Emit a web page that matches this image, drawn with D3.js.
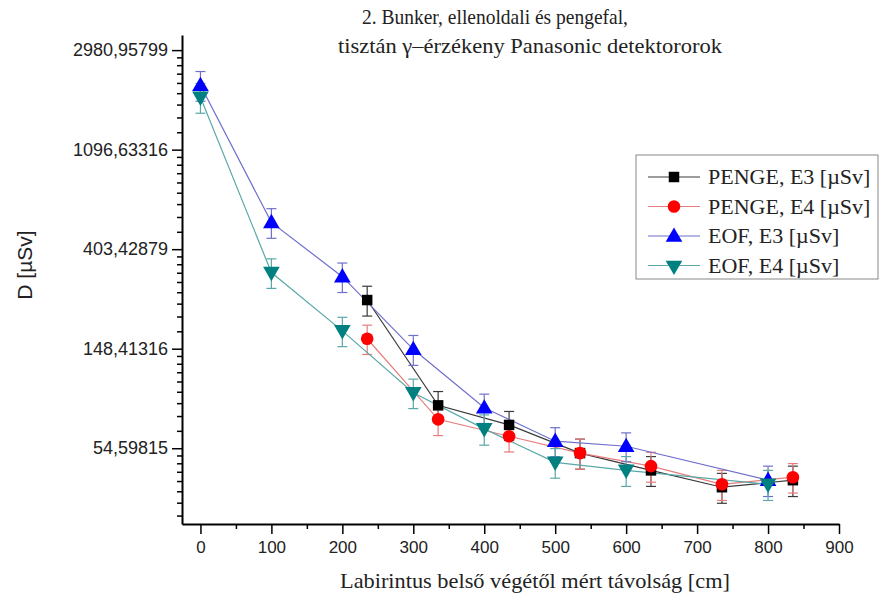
<!DOCTYPE html>
<html>
<head>
<meta charset="utf-8">
<script src="https://cdn.jsdelivr.net/npm/d3@7/dist/d3.min.js"></script>
<style>
  body { margin: 0; background: #fff; }
  svg { display: block; }
</style>
</head>
<body>
<svg id="chart" width="880" height="602"></svg>
<script>

// distances [cm]
var pengeX = [235, 335, 435, 535, 635, 735, 835],
    eofX = [0, 100, 200, 300, 400, 500, 600, 800];

// doses [uSv] and their errors
var pengeE3 = [242, 84, 69, 52, 43.7, 36.9, 39.6],
    pengeE3Err = [36, 12.5, 10, 7.8, 6.5, 5.5, 6],
    pengeE4 = [164, 73, 61.6, 52, 45.6, 38, 40.8],
    pengeE4Err = [24, 11, 9, 7.8, 6.8, 5.7, 6],
    eofE3 = [2094, 528, 306, 147.5, 82, 58.6, 55.7, 39.6],
    eofE3Err = [310, 78, 45, 22, 12, 8.5, 8, 6],
    eofE4 = [1856, 319, 177.5, 95.3, 66.3, 47.4, 43.7, 38],
    eofE4Err = [275, 47, 26, 14, 10, 7, 6.5, 5.7];

var seriesNames = ['PENGE, E3 [\u00b5Sv]', 'PENGE, E4 [\u00b5Sv]', 'EOF, E3 [\u00b5Sv]', 'EOF, E4 [\u00b5Sv]'];

var xTicks = [0, 100, 200, 300, 400, 500, 600, 700, 800, 900],
    xMinorTicks = [50, 150, 250, 350, 450, 550, 650, 750, 850],
    yTicks = [54.59815, 148.41316, 403.42879, 1096.63316, 2980.95799],
    yTickLabels = ['54,59815', '148,41316', '403,42879', '1096,63316', '2980,95799'];

var svg = d3.select('#chart'),
    x = d3.scaleLinear().domain([-26, 900]).range([182, 839]),
    y = d3.scaleLog().base(Math.E).domain([25.5, 3470]).range([524, 35]);

var sans = '"Liberation Sans", Arial, sans-serif',
    serif = '"Liberation Serif", "Times New Roman", serif';

// minor ticks of Origin's ln axis: 8 even steps between e^n and e^(n+1)
var yMinorTicks = [];
for (var n = 3; n < 8; n++) {
  var lo = Math.exp(n), hi = Math.exp(n + 1);
  for (var k = 1; k < 9; k++) {
    var v = lo + k * (hi - lo) / 9;
    if (v > 25.5 && v < 3470) yMinorTicks.push(v);
  }
}

var series = [
  { name: seriesNames[0], xs: pengeX, ys: pengeE3, err: pengeE3Err, fill: '#000000', line: '#3a3a3a', shape: 'square' },
  { name: seriesNames[1], xs: pengeX, ys: pengeE4, err: pengeE4Err, fill: '#ff0000', line: '#e77c7c', shape: 'circle' },
  { name: seriesNames[2], xs: eofX, ys: eofE3, err: eofE3Err, fill: '#0000ff', line: '#6f6fcc', shape: 'up' },
  { name: seriesNames[3], xs: eofX, ys: eofE4, err: eofE4Err, fill: '#008080', line: '#5aa8a8', shape: 'down' }
];

function symbolPath(shape) {
  if (shape === 'square') return d3.symbol(d3.symbolSquare, 110)();
  if (shape === 'circle') return d3.symbol(d3.symbolCircle, 125)();
  return d3.symbol(d3.symbolTriangle, 120)();
}

// axes
var yAxis = svg.append('g')
    .attr('transform', 'translate(182,0)')
    .call(d3.axisLeft(y).tickValues(yTicks).tickSize(10).tickSizeOuter(0)
      .tickFormat(function(d, i) { return yTickLabels[i]; }));
svg.append('g')
    .attr('transform', 'translate(182,0)')
    .call(d3.axisLeft(y).tickValues(yMinorTicks).tickSize(5).tickSizeOuter(0).tickFormat(''))
    .select('.domain').remove();

var xAxis = svg.append('g')
    .attr('transform', 'translate(0,524)')
    .call(d3.axisBottom(x).tickValues(xTicks).tickSize(10).tickSizeOuter(0));
svg.append('g')
    .attr('transform', 'translate(0,524)')
    .call(d3.axisBottom(x).tickValues(xMinorTicks).tickSize(5).tickSizeOuter(0).tickFormat(''))
    .select('.domain').remove();

svg.selectAll('.domain').attr('stroke', '#000').attr('stroke-width', 2);
svg.selectAll('.tick line').attr('stroke', '#000').attr('stroke-width', 1.5);
yAxis.selectAll('.tick text')
    .attr('x', -14)
    .style('font-family', sans)
    .style('font-size', '18px')
    .attr('fill', '#222');
xAxis.selectAll('.tick text')
    .attr('y', 17)
    .style('font-family', sans)
    .style('font-size', '17px')
    .attr('fill', '#222');

// lines and error bars
var line = d3.line()
    .x(function(d) { return x(d[0]); })
    .y(function(d) { return y(d[1]); });

series.forEach(function(s) {
  var pts = s.xs.map(function(v, i) { return [v, s.ys[i], s.err[i]]; });
  var g = svg.append('g');
  g.append('path')
      .datum(pts)
      .attr('d', line)
      .attr('fill', 'none')
      .attr('stroke', s.line)
      .attr('stroke-width', 1.2);
  var eb = g.selectAll('.eb')
      .data(pts)
    .enter().append('g');
  eb.append('line')
      .attr('x1', function(d) { return x(d[0]); })
      .attr('x2', function(d) { return x(d[0]); })
      .attr('y1', function(d) { return y(d[1] + d[2]); })
      .attr('y2', function(d) { return y(d[1] - d[2]); });
  eb.append('line')
      .attr('x1', function(d) { return x(d[0]) - 5; })
      .attr('x2', function(d) { return x(d[0]) + 5; })
      .attr('y1', function(d) { return y(d[1] + d[2]); })
      .attr('y2', function(d) { return y(d[1] + d[2]); });
  eb.append('line')
      .attr('x1', function(d) { return x(d[0]) - 5; })
      .attr('x2', function(d) { return x(d[0]) + 5; })
      .attr('y1', function(d) { return y(d[1] - d[2]); })
      .attr('y2', function(d) { return y(d[1] - d[2]); });
  eb.selectAll('line').attr('stroke', s.line).attr('stroke-width', 1.2);
});

// markers
series.forEach(function(s) {
  svg.append('g').selectAll('path')
      .data(s.xs.map(function(v, i) { return [v, s.ys[i]]; }))
    .enter().append('path')
      .attr('d', symbolPath(s.shape))
      .attr('transform', function(d) {
        var t = 'translate(' + x(d[0]) + ',' + y(d[1]) + ')';
        if (s.shape === 'up') t += 'translate(0,1)';
        if (s.shape === 'down') t += 'translate(0,-1) rotate(180)';
        return t;
      })
      .attr('fill', s.fill);
});

// legend
var legend = svg.append('g').attr('transform', 'translate(636,155)');
legend.append('rect')
    .attr('width', 242).attr('height', 124)
    .attr('fill', '#fff').attr('stroke', '#888').attr('stroke-width', 1);
series.forEach(function(s, i) {
  var ly = 22 + i * 29.5;
  legend.append('line')
      .attr('x1', 12).attr('x2', 64).attr('y1', ly).attr('y2', ly)
      .attr('stroke', s.line).attr('stroke-width', 1.2);
  legend.append('path')
      .attr('d', symbolPath(s.shape))
      .attr('transform', 'translate(38,' + (ly + (s.shape === 'up' ? 1 : 0)) + ')' + (s.shape === 'down' ? ' rotate(180)' : ''))
      .attr('fill', s.fill);
  legend.append('text')
      .attr('x', 72).attr('y', ly + 7)
      .style('font-family', serif)
      .style('font-size', '22px')
      .attr('fill', '#222')
      .text(s.name);
});

// titles
svg.append('text')
    .attr('x', 362).attr('y', 24)
    .attr('textLength', 266).attr('lengthAdjust', 'spacingAndGlyphs')
    .style('font-family', serif).style('font-size', '21px').attr('fill', '#222')
    .text('2. Bunker, ellenoldali \u00e9s pengefal,');
svg.append('text')
    .attr('x', 338).attr('y', 53)
    .attr('textLength', 384).attr('lengthAdjust', 'spacingAndGlyphs')
    .style('font-family', serif).style('font-size', '21px').attr('fill', '#222')
    .text('tiszt\u00e1n \u03b3\u2013\u00e9rz\u00e9keny Panasonic detektororok');
svg.append('text')
    .attr('x', 535).attr('y', 588)
    .attr('text-anchor', 'middle')
    .attr('textLength', 390).attr('lengthAdjust', 'spacingAndGlyphs')
    .style('font-family', serif).style('font-size', '21px').attr('fill', '#222')
    .text('Labirintus bels\u0151 v\u00e9g\u00e9t\u0151l m\u00e9rt t\u00e1vols\u00e1g [cm]');
svg.append('text')
    .attr('transform', 'translate(32,265) rotate(-90)')
    .attr('text-anchor', 'middle')
    .style('font-family', sans).style('font-size', '21px').attr('fill', '#222')
    .text('D [\u00b5Sv]');

</script>
</body>
</html>
